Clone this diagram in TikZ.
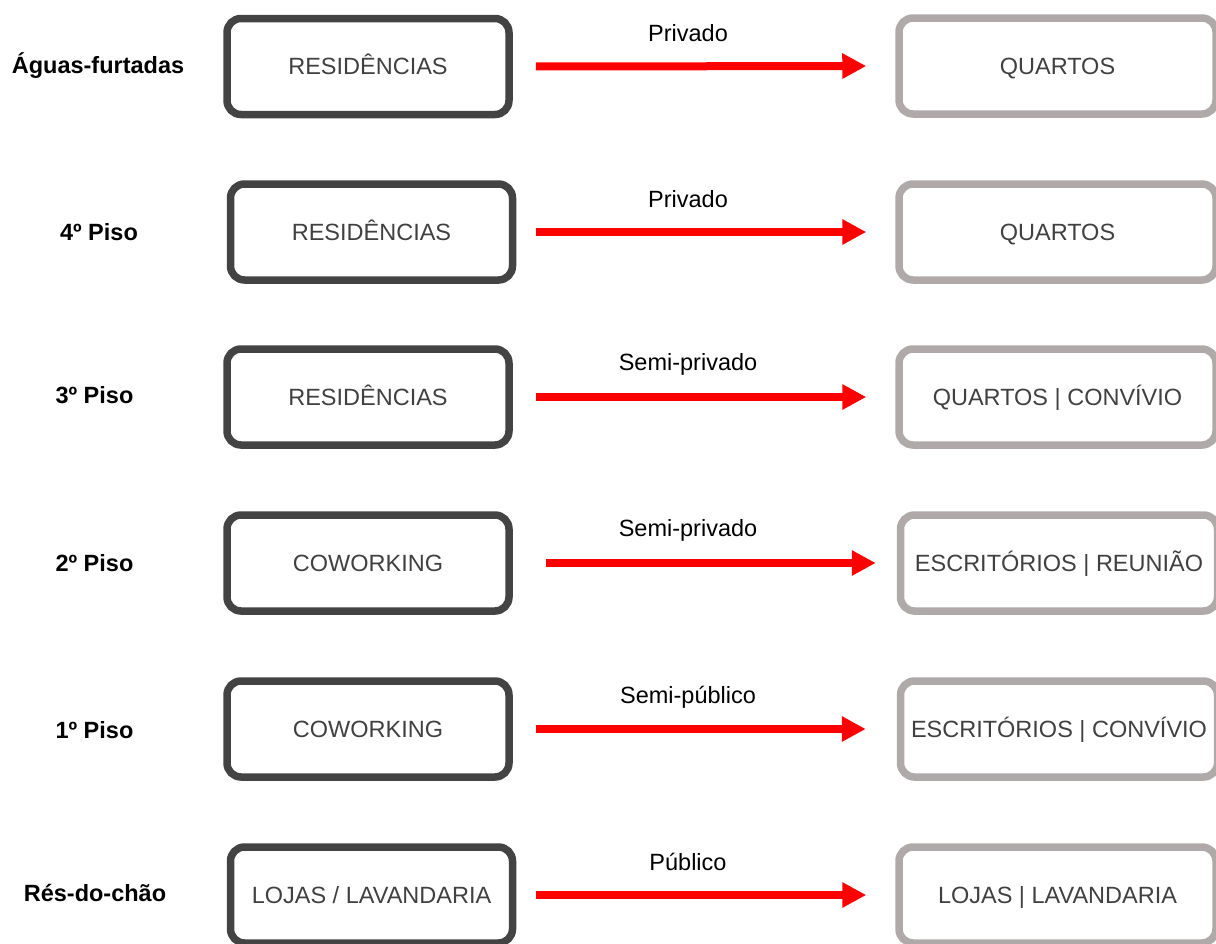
\documentclass[tikz,border=0pt]{standalone}
\usepackage{fontspec}
\setmainfont{Liberation Sans}
\usetikzlibrary{arrows.meta}
\definecolor{darkframe}{HTML}{434343}
\definecolor{lightframe}{HTML}{AFAAA9}
\definecolor{boxtext}{HTML}{404040}
\definecolor{flowred}{HTML}{FF0000}
\newcommand\diagfont{\fontsize{23.5}{28}\selectfont}
\tikzset{
  basebox/.style={line width=7.5pt, rounded corners=14pt, inner sep=0pt,
    text=boxtext, font=\diagfont, text height=16.8pt, text depth=0pt,
    minimum height=96pt},
  leftbox/.style={basebox, draw=darkframe, minimum width=282pt},
  rightbox/.style={basebox, draw=lightframe, minimum width=317pt},
  floorlabel/.style={font=\diagfont\bfseries, text=black, inner sep=0pt,
    text height=16.8pt, text depth=0pt},
  flowlabel/.style={font=\diagfont, text=black, inner sep=0pt,
    text height=16.8pt, text depth=0pt},
  flow/.style={draw=flowred, line width=8pt,
    -{Triangle[length=24pt,width=24pt]}}
}
\begin{document}
\begin{tikzpicture}[x=1pt,y=-1pt]
\useasboundingbox (0,0) rectangle (1216,943);

% Row 1
\node[floorlabel] (F1) at (98,65) {Águas-furtadas};
\node[leftbox] (L1) at (368,66.5) {RESIDÊNCIAS};
\node[rightbox] (R1) at (1057.5,66) {QUARTOS};
\node[flowlabel] (T1) at (688,33.5) {Privado};
\draw[flow, shorten <=23pt, shorten >=29pt] (L1.east) -- (R1.west);

% Row 2
\node[floorlabel] (F2) at (99,232) {4º Piso};
\node[leftbox] (L2) at (371.5,232) {RESIDÊNCIAS};
\node[rightbox] (R2) at (1057.5,232) {QUARTOS};
\node[flowlabel] (T2) at (688,199) {Privado};
\draw[flow, shorten <=20pt, shorten >=29pt] (L2.east) -- (R2.west);

% Row 3
\node[floorlabel] (F3) at (94.5,395) {3º Piso};
\node[leftbox] (L3) at (368,397) {RESIDÊNCIAS};
\node[rightbox] (R3) at (1057.5,397) {QUARTOS | CONVÍVIO};
\node[flowlabel] (T3) at (688,362) {Semi-privado};
\draw[flow, shorten <=23pt, shorten >=29pt] (L3.east) -- (R3.west);

% Row 4
\node[floorlabel] (F4) at (94.5,563) {2º Piso};
\node[leftbox] (L4) at (368,563) {COWORKING};
\node[rightbox] (R4) at (1059,563) {ESCRITÓRIOS | REUNIÃO};
\node[flowlabel] (T4) at (688,528) {Semi-privado};
\draw[flow, shorten <=33pt, shorten >=21pt] (L4.east) -- (R4.west);

% Row 5
\node[floorlabel] (F5) at (94.5,730) {1º Piso};
\node[leftbox] (L5) at (368,729) {COWORKING};
\node[rightbox] (R5) at (1059,729) {ESCRITÓRIOS | CONVÍVIO};
\node[flowlabel] (T5) at (688,695) {Semi-público};
\draw[flow, shorten <=23pt, shorten >=31pt] (L5.east) -- (R5.west);

% Row 6
\node[floorlabel] (F6) at (95,893) {Rés-do-chão};
\node[leftbox] (L6) at (371.5,895) {LOJAS / LAVANDARIA};
\node[rightbox] (R6) at (1057.5,895) {LOJAS | LAVANDARIA};
\node[flowlabel] (T6) at (688,862) {Público};
\draw[flow, shorten <=20pt, shorten >=29pt] (L6.east) -- (R6.west);
\end{tikzpicture}
\end{document}
